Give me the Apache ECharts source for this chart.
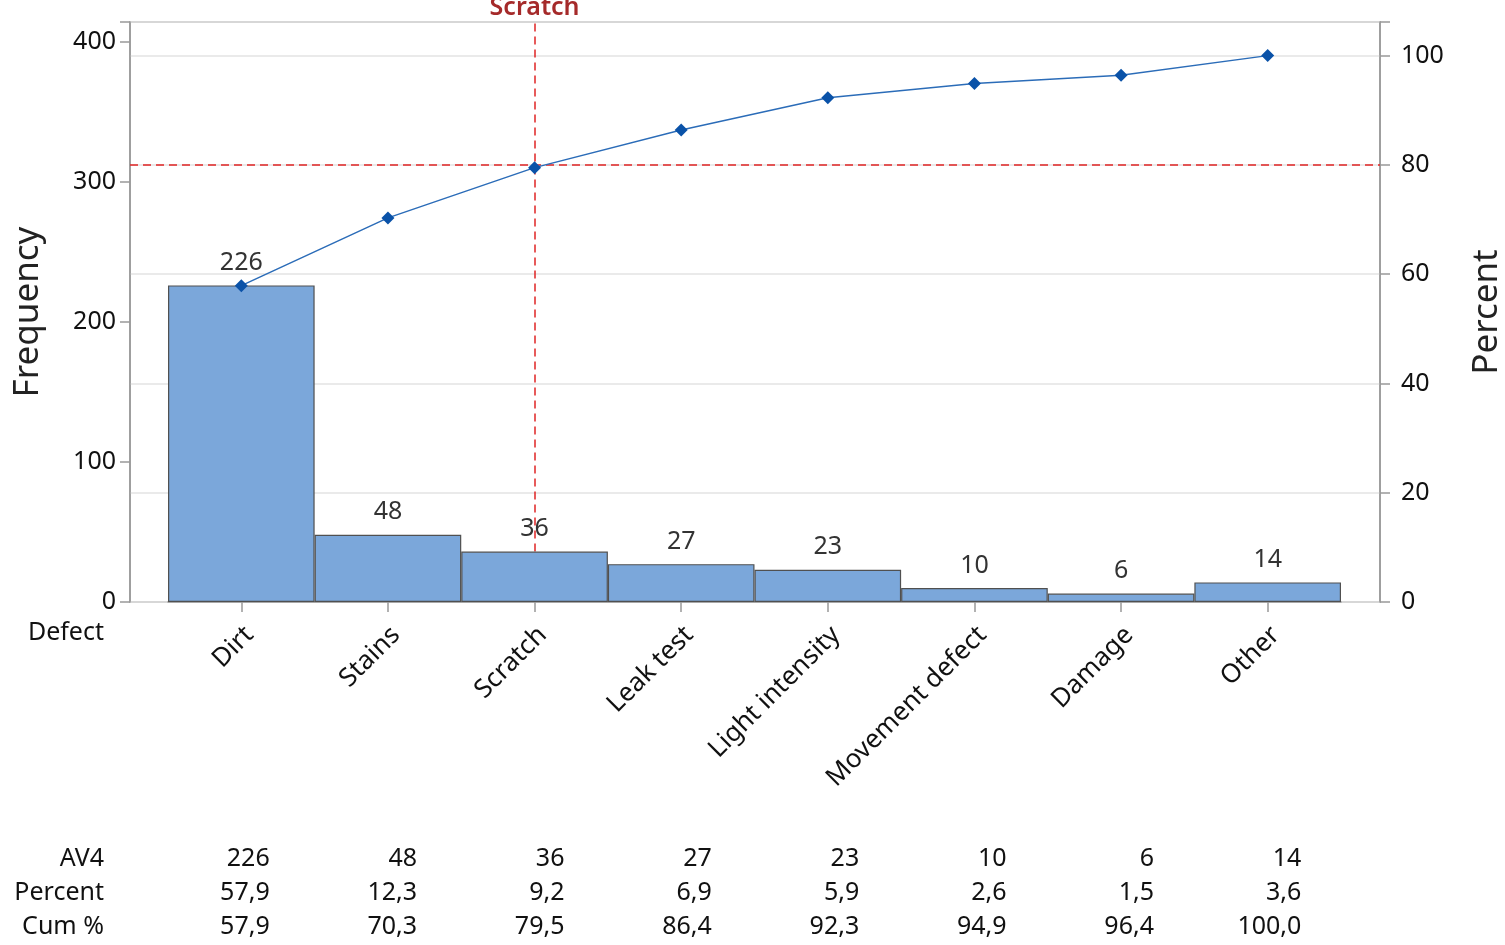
<!DOCTYPE html>
<html>
<head>
<meta charset="utf-8">
<script src="https://cdn.jsdelivr.net/npm/echarts@6/dist/echarts.min.js"></script>
<style>
html,body{margin:0;padding:0;background:#fff;}
#chart{width:1505px;height:945px;}
</style>
</head>
<body>
<div id="chart"></div>
<script>
const categories = ['Dirt', 'Stains', 'Scratch', 'Leak test', 'Light intensity', 'Movement defect', 'Damage', 'Other'];
const frequency = [226, 48, 36, 27, 23, 10, 6, 14];
const percent = [57.9, 12.3, 9.2, 6.9, 5.9, 2.6, 1.5, 3.6];
const cumPercent = [57.9, 70.3, 79.5, 86.4, 92.3, 94.9, 96.4, 100.0];
const freqTicks = [0, 100, 200, 300, 400];
const pctTicks = [0, 20, 40, 60, 80, 100];
const rowLabels = ['AV4', 'Percent', 'Cum %'];
const cutoffPercent = 80;
const cutoffCategory = 'Scratch';

const total = 390;
const freqMax = 414;
const pctMax = freqMax / total * 100;
const FONT = '"Noto Sans", "Open Sans", sans-serif';
const fmt = v => v.toFixed(1).replace('.', ',');

const chart = echarts.init(document.getElementById('chart'));

const g = (l, r) => ({ left: l, right: r, top: 22, bottom: 343, outerBoundsMode: 'none', containLabel: false });

const option = {
  animation: false,
  backgroundColor: '#fff',
  textStyle: { fontFamily: FONT },
  grid: [
    Object.assign(g(130, 125), { show: true, borderColor: '#999', borderWidth: 1.5, backgroundColor: 'transparent' }),
    g(168, 164),
    g(196, 130),
    g(176, 156)
  ],
  xAxis: [
    { type: 'value', gridIndex: 0, min: 0, max: 1, show: false },
    {
      type: 'category', gridIndex: 1, data: categories, boundaryGap: true,
      axisLine: { show: true, lineStyle: { color: '#999', width: 1.5 } },
      axisTick: { show: true, alignWithLabel: true, length: 10, lineStyle: { color: '#999', width: 1.5 } },
      axisLabel: { show: false },
      splitLine: { show: false }
    },
    {
      type: 'category', gridIndex: 2, data: categories, position: 'bottom', offset: 240,
      axisLine: { show: false }, axisTick: { show: false }, splitLine: { show: false },
      axisLabel: {
        interval: 0, margin: 0, align: 'right', verticalAlign: 'top',
        fontSize: 25, lineHeight: 34, color: '#111', fontFamily: FONT,
        formatter: (v, i) => frequency[i] + '\n' + fmt(percent[i]) + '\n' + fmt(cumPercent[i])
      }
    },
    {
      type: 'category', gridIndex: 3, data: categories, position: 'bottom',
      axisLine: { show: false }, axisTick: { show: false }, splitLine: { show: false },
      axisLabel: { rotate: 45, margin: 29, fontSize: 26, color: '#111', fontFamily: FONT, interval: 0 }
    }
  ],
  yAxis: [
    {
      type: 'value', gridIndex: 0, min: 0, max: pctMax, interval: 20, show: true,
      axisLine: { show: false }, axisTick: { show: false }, axisLabel: { show: false },
      splitLine: { show: true, lineStyle: { color: '#e3e3e3', width: 1.5 } }
    },
    {
      type: 'value', gridIndex: 1, position: 'left', offset: 38, min: 0, max: freqMax, interval: 100,
      name: 'Frequency', nameLocation: 'middle', nameGap: 84,
      nameTextStyle: { fontSize: 35, color: '#222', fontFamily: FONT },
      axisLine: { show: true, lineStyle: { color: '#999', width: 1.5 } },
      axisTick: { show: true, length: 10, lineStyle: { color: '#999', width: 1.5 } },
      axisLabel: { fontSize: 25, color: '#111', margin: 14, fontFamily: FONT,
        formatter: v => freqTicks.includes(v) ? String(v) : '' },
      splitLine: { show: false }
    },
    {
      type: 'value', gridIndex: 1, position: 'right', offset: 39, min: 0, max: pctMax, interval: 20,
      name: 'Percent', nameLocation: 'middle', nameGap: 90,
      nameTextStyle: { fontSize: 35, color: '#222', fontFamily: FONT },
      axisLine: { show: true, lineStyle: { color: '#999', width: 1.5 } },
      axisTick: { show: true, length: 10, lineStyle: { color: '#999', width: 1.5 } },
      axisLabel: { fontSize: 25, color: '#111', margin: 21, fontFamily: FONT,
        formatter: v => pctTicks.includes(v) ? String(v) : '' },
      splitLine: { show: false }
    },
    { type: 'value', gridIndex: 2, min: 0, max: 1, show: false },
    { type: 'value', gridIndex: 3, min: 0, max: 1, show: false }
  ],
  graphic: [
    { type: 'text', x: 104, y: 633, style: { text: 'Defect', font: '25px ' + FONT, fill: '#111', textAlign: 'right', textVerticalAlign: 'middle' } }
  ].concat(rowLabels.map((t, i) => ({
    type: 'text', x: 104, y: 859 + i * 34, style: { text: t, font: '25px ' + FONT, fill: '#111', textAlign: 'right', textVerticalAlign: 'middle' }
  }))),
  series: [
    {
      type: 'line', xAxisIndex: 0, yAxisIndex: 0, data: [[0, cutoffPercent], [1, cutoffPercent]],
      symbol: 'none', lineStyle: { opacity: 0 }, silent: true,
      markLine: {
        symbol: 'none', silent: true, label: { show: false },
        lineStyle: { color: '#e02424', type: [8, 5], width: 1.5 },
        data: [{ yAxis: cutoffPercent }]
      }
    },
    {
      type: 'bar', xAxisIndex: 1, yAxisIndex: 1, data: frequency, barWidth: '100%', barCategoryGap: 0,
      itemStyle: { color: '#7ba7da', borderColor: '#505050', borderWidth: 1.2 },
      label: { show: true, position: 'top', distance: 10, fontSize: 25, color: '#333', fontFamily: FONT },
      markLine: {
        symbol: 'none', silent: true, z: 1,
        lineStyle: { color: '#e02424', type: [8, 5], width: 1.5 },
        label: { show: true, position: 'end', formatter: cutoffCategory, color: '#a52a2a', fontSize: 25, fontWeight: 600, fontFamily: FONT, distance: 2 },
        data: [[{ coord: [cutoffCategory, frequency[categories.indexOf(cutoffCategory)]] }, { coord: [cutoffCategory, freqMax] }]]
      }
    },
    {
      type: 'line', xAxisIndex: 1, yAxisIndex: 2, data: cumPercent,
      symbol: 'diamond', symbolSize: [13, 13], z: 5,
      itemStyle: { color: '#0a52a8' },
      lineStyle: { color: '#2b6cb8', width: 1.5 }
    }
  ]
};
chart.setOption(option);
</script>
</body>
</html>
